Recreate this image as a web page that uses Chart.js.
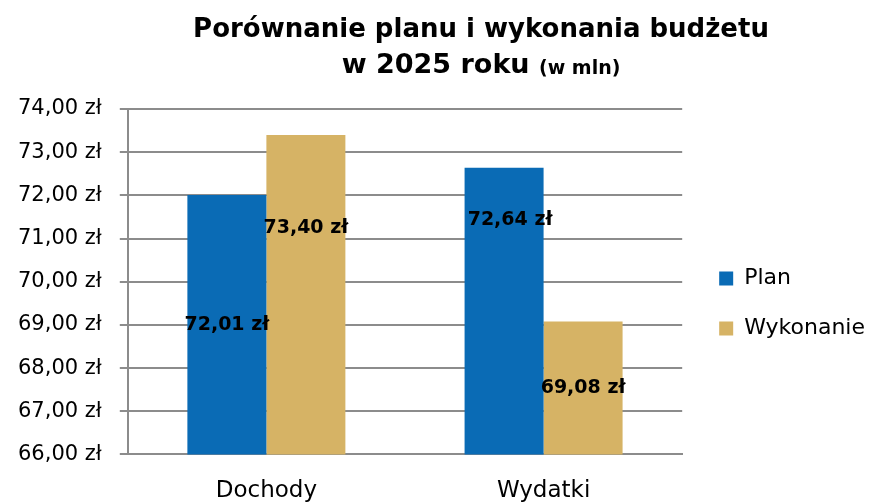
<!DOCTYPE html>
<html>
<head>
<meta charset="utf-8">
<script src="https://cdn.jsdelivr.net/npm/chart.js@4"></script>
<style>
    html, body { margin: 0; padding: 0; background: #fff; }
    #wrap { width: 878px; height: 502px; position: relative; }
</style>
</head>
<body>
<div id="wrap"><canvas id="budgetChart"></canvas></div>
<script>
// data
const categories = ['Dochody', 'Wydatki'];
const seriesNames = ['Plan', 'Wykonanie'];
const planValues = [72.01, 72.64];
const wykonanieValues = [73.40, 69.08];
const yTicks = [66, 67, 68, 69, 70, 71, 72, 73, 74];

const COLORS = ['#0a6bb5', '#d6b365'];
const FONT = '"DejaVu Sans", Verdana, sans-serif';

const fmtZl = v => v.toFixed(2).replace('.', ',') + ' zł';

// title with a smaller "(w mln)" tail, drawn on the canvas
const titlePlugin = {
    id: 'twoLineTitle',
    afterDraw(chart, args, opts) {
        const ctx = chart.ctx;
        ctx.save();
        ctx.fillStyle = '#000';
        ctx.textBaseline = 'middle';
        ctx.textAlign = 'center';
        const smallFont = 'bold 19px ' + FONT;
        ctx.font = 'bold 26px ' + FONT;
        ctx.fillText(opts.line1, opts.x, opts.y1);

        // line 2: big part + small part, centered together
        ctx.font = 'bold 27px ' + FONT;
        const w1 = ctx.measureText(opts.line2).width;
        ctx.font = smallFont;
        const w2 = ctx.measureText(opts.line2small).width;
        const left = opts.x - (w1 + w2) / 2;
        ctx.textAlign = 'left';
        ctx.font = 'bold 27px ' + FONT;
        ctx.fillText(opts.line2, left, opts.y2);
        ctx.font = smallFont;
        ctx.fillText(opts.line2small, left + w1, opts.y2 + 3);
        ctx.restore();
    }
};

// nudge the legend block, like it was dragged in Excel
const legendNudge = {
    id: 'legendNudge',
    afterLayout(chart, args, opts) {
        const lg = chart.legend;
        if (!lg) return;
        lg.left += opts.dx; lg.right += opts.dx;
        lg.top += opts.dy; lg.bottom += opts.dy;
    }
};

// value labels inside bars (Excel had a few of them dragged upward)
const valueLabels = {
    id: 'valueLabels',
    afterDatasetsDraw(chart, args, opts) {
        const ctx = chart.ctx;
        const y = chart.scales.y;
        ctx.save();
        ctx.font = 'bold 19px ' + FONT;
        ctx.fillStyle = '#000';
        ctx.textAlign = 'center';
        ctx.textBaseline = 'middle';
        chart.data.datasets.forEach((ds, di) => {
            chart.getDatasetMeta(di).data.forEach((bar, i) => {
                const v = ds.data[i];
                const mid = (v + y.min) / 2 + opts.shift[di][i];
                ctx.fillText(fmtZl(v), bar.x + opts.dx[di][i], y.getPixelForValue(mid));
            });
        });
        ctx.restore();
    }
};

new Chart(document.getElementById('budgetChart'), {
    type: 'bar',
    data: {
        labels: categories,
        datasets: [
            { label: seriesNames[0], data: planValues, backgroundColor: COLORS[0] },
            { label: seriesNames[1], data: wykonanieValues, backgroundColor: COLORS[1] }
        ]
    },
    options: {
        responsive: true,
        maintainAspectRatio: false,
        animation: false,
        datasets: { bar: { categoryPercentage: 0.57, barPercentage: 1.0 } },
        layout: { padding: { top: 109, right: 12, left: 0, bottom: -18 } },
        plugins: {
            tooltip: { enabled: false },
            title: { display: false },
            legend: {
                position: 'right',
                labels: {
                    boxWidth: 14,
                    boxHeight: 14,
                    padding: 28,
                    color: '#000',
                    font: { family: FONT, size: 22 }
                }
            },
            legendNudge: { dx: 9, dy: -11 },
            twoLineTitle: {
                line1: 'Porównanie planu i wykonania budżetu',
                line2: 'w 2025 roku ',
                line2small: '(w mln)',
                x: 481, y1: 30, y2: 66
            },
            valueLabels: {
                shift: [[0, 2.1], [1.55, 0]],
                dx: [[0, 6], [0, 0]]
            }
        },
        scales: {
            x: {
                grid: { display: false },
                border: { display: true, color: '#8c8c8c', width: 2 },
                ticks: { color: '#000', padding: 15, font: { family: FONT, size: 23 } }
            },
            y: {
                min: yTicks[0],
                max: yTicks[yTicks.length - 1],
                afterBuildTicks: axis => { axis.ticks = yTicks.map(v => ({ value: v })); },
                grid: { color: '#8c8c8c', lineWidth: 2, tickLength: 8 },
                border: { display: true, color: '#8c8c8c', width: 2 },
                ticks: {
                    color: '#000',
                    padding: 18,
                    font: { family: FONT, size: 21 },
                    callback: v => fmtZl(v)
                }
            }
        }
    },
    plugins: [titlePlugin, legendNudge, valueLabels]
});
</script>
</body>
</html>
